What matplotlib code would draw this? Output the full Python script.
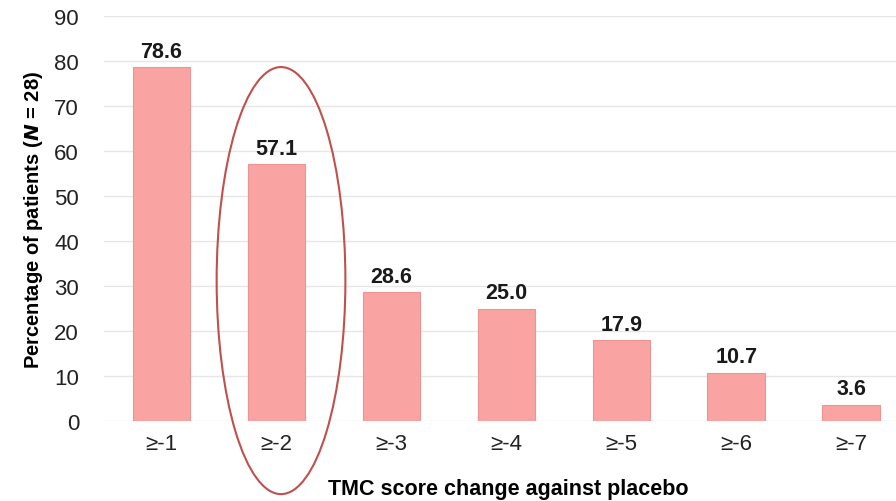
import numpy as np
import matplotlib.pyplot as plt
from matplotlib.patches import Ellipse

# categories and values
categories = ['≥-1', '≥-2', '≥-3', '≥-4', '≥-5', '≥-6', '≥-7']
values = [78.6, 57.1, 28.6, 25.0, 17.9, 10.7, 3.6]
yticks = [0, 10, 20, 30, 40, 50, 60, 70, 80, 90]

plt.rcParams['font.family'] = ['Liberation Sans', 'DejaVu Sans']

fig = plt.figure(figsize=(8.96, 5.02), dpi=100)
ax = fig.add_axes([104/896, 80/502, 1 - 104/896, 405/502])

x = np.arange(len(categories))
ax.bar(x, values, width=0.5, color='#f9a3a3', edgecolor='#eb9494', linewidth=0.8, zorder=3)
for xi, v in zip(x, values):
    ax.text(xi, v + 1.2, f'{v:.1f}', ha='center', va='bottom', fontsize=15.5, fontweight='bold', color='#1a1a1a')

ax.set_ylim(0, 90)
ax.set_xlim(-0.5, 6.39)
ax.set_yticks(yticks)
ax.set_xticks(x)
ax.set_xticklabels(categories)
ax.tick_params(axis='both', length=0, labelsize=16, colors='#222222')
ax.tick_params(axis='x', pad=9)
ax.tick_params(axis='y', pad=18)
ax.grid(axis='y', color='#e6e6e6', linewidth=1, zorder=0)
for s in ax.spines.values():
    s.set_visible(False)

ax.set_ylabel('Percentage of patients ($\\bfit{N}$ = 28)', fontsize=14.5, fontweight='bold')
ax.yaxis.set_label_coords(-0.075, 0.5)
ax.set_xlabel('TMC score change against placebo', fontsize=15.5, fontweight='bold')
ax.xaxis.set_label_coords(0.51, -0.14)

# highlight ellipse around the second bar
ell = Ellipse((1.04, 31.2), 1.12, 94.9, fill=False, edgecolor='#c0504d', linewidth=1.5, clip_on=False, zorder=4)
ax.add_patch(ell)

fig.savefig('out.png', dpi=100)
